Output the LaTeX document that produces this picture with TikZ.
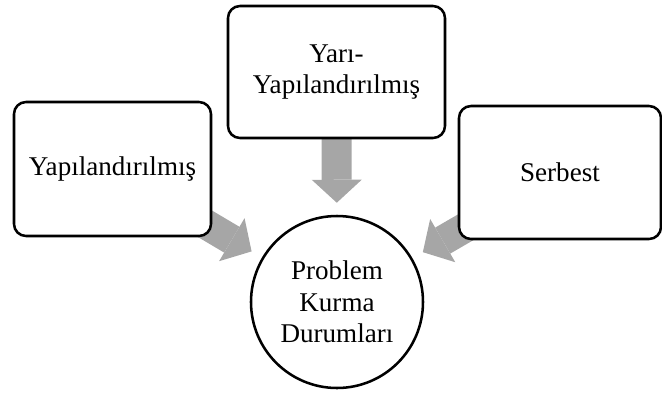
\documentclass[tikz,border=0pt]{standalone}
\usepackage{fontspec}
\setmainfont{Liberation Serif}
\usetikzlibrary{arrows.meta,backgrounds}

\begin{document}
\begin{tikzpicture}[x=0.75pt,y=-0.75pt,
  every node/.style={font=\fontsize{20.3pt}{23.8pt}\selectfont,align=center},
  kutu/.style={draw,line width=1.9pt,rounded corners=9pt,fill=white,inner sep=2pt},
  daire/.style={draw,circle,line width=1.9pt,fill=white,minimum size=129pt,inner sep=0pt},
  ok/.style={draw=gray!70,line width=22.5pt,shorten >=9pt,
    -{Triangle[width=37.5pt,length=17.25pt,line width=0pt]}}]

\useasboundingbox (0,0) rectangle (662,394);

\node[kutu,minimum width=147.75pt,minimum height=100.5pt] (yap) at (112.5,169) {Yapılandırılmış};
\node[kutu,minimum width=162.75pt,minimum height=99pt] (yari) at (336.5,72) {Yarı-\\Yapılandırılmış};
\node[kutu,minimum width=151.5pt,minimum height=99.75pt] (ser) at (560,172.5) {Serbest};
\node[daire] (pkd) at (337,302) {Problem\\Kurma\\Durumları};

\begin{pgfonlayer}{background}
  \draw[ok] (yap.center) -- (pkd);
  \draw[ok] (yari.center) -- (pkd);
  \draw[ok] (ser.center) -- (pkd);
\end{pgfonlayer}
\end{tikzpicture}
\end{document}
